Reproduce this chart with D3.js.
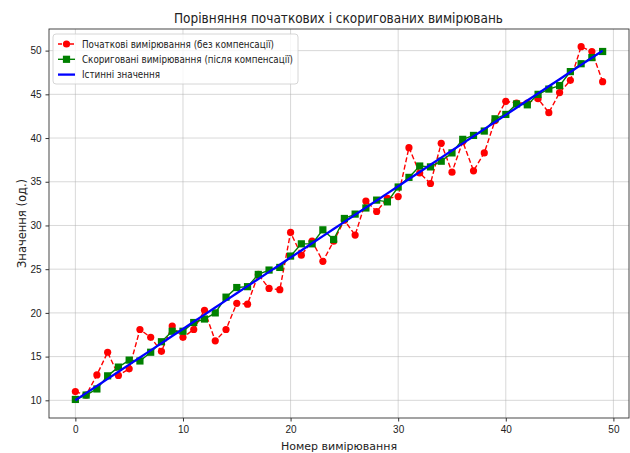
<!DOCTYPE html>
<meta charset="utf-8">
<style>
body { margin: 0; background: #fff; }
svg { font-family: "DejaVu Sans", sans-serif; }
.grid line { stroke: #b0b0b0; stroke-opacity: 0.55; stroke-width: 0.9; }
.axis text { font-size: 10px; fill: #222; }
.axis path, .axis line { stroke: #333; }
</style>
<svg width="630" height="453"></svg>
<script src="https://d3js.org/d3.v7.min.js"></script>
<script>

var index = d3.range(50);

var rawValues = [
  11.0, 10.6, 12.9, 15.5, 12.85, 13.6, 18.1, 17.2, 15.6, 18.5,
  17.2, 18.1, 20.3, 16.8, 18.1, 21.1, 21.0, 24.4, 22.8, 22.65,
  29.2, 26.6, 28.2, 25.9, 28.2, 30.6, 28.9, 32.8, 31.6, 33.1,
  33.3, 38.9, 36.0, 34.8, 39.4, 36.1, 39.6, 36.25, 38.3, 42.0,
  44.2, 44.0, 44.0, 44.5, 42.9, 45.2, 46.6, 50.45, 49.9, 46.45
];

var correctedValues = [
  10.1, 10.6, 11.3, 12.8, 13.8, 14.6, 14.5, 15.5, 16.7, 17.9,
  17.9, 18.9, 19.3, 20.0, 21.8, 22.9, 23.0, 24.4, 24.9, 25.2,
  26.5, 27.9, 27.9, 29.5, 28.4, 30.8, 31.3, 32.0, 32.9, 32.7,
  34.4, 35.5, 36.8, 36.7, 37.35, 38.3, 39.85, 40.3, 40.8, 42.2,
  42.7, 43.9, 43.8, 45.0, 45.6, 46.0, 47.6, 48.5, 49.2, 49.9
];

var trueValues = [
  10.0, 10.82, 11.63, 12.45, 13.27, 14.08, 14.9, 15.71, 16.53, 17.35,
  18.16, 18.98, 19.8, 20.61, 21.43, 22.24, 23.06, 23.88, 24.69, 25.51,
  26.33, 27.14, 27.96, 28.78, 29.59, 30.41, 31.22, 32.04, 32.86, 33.67,
  34.49, 35.31, 36.12, 36.94, 37.76, 38.57, 39.39, 40.2, 41.02, 41.84,
  42.65, 43.47, 44.29, 45.1, 45.92, 46.73, 47.55, 48.37, 49.18, 50.0
];

var xTicks = [0, 10, 20, 30, 40, 50];
var yTicks = [10, 15, 20, 25, 30, 35, 40, 45, 50];

var title = "Порівняння початкових і скоригованих вимірювань",
    xLabel = "Номер вимірювання",
    yLabel = "Значення (од.)";

var legendLabels = [
  "Початкові вимірювання (без компенсації)",
  "Скориговані вимірювання (після компенсації)",
  "Істинні значення"
];

var svg = d3.select("svg"),
    margin = {top: 29, right: 1, bottom: 35, left: 49},
    width = +svg.attr("width") - margin.left - margin.right,
    height = +svg.attr("height") - margin.top - margin.bottom;

// matplotlib-style 5% padding
function pad(ext) {
  var d = (ext[1] - ext[0]) * 0.05;
  return [ext[0] - d, ext[1] + d];
}

var x = d3.scaleLinear()
    .domain(pad(d3.extent(index)))
    .range([0, width]);

var y = d3.scaleLinear()
    .domain(pad(d3.extent(rawValues.concat(correctedValues, trueValues))))
    .range([height, 0]);

var g = svg.append("g")
    .attr("transform", "translate(" + margin.left + "," + margin.top + ")");

// grid
var grid = g.append("g").attr("class", "grid");

grid.selectAll("line.v")
  .data(xTicks)
  .enter().append("line")
    .attr("class", "v")
    .attr("x1", function(d) { return x(d); })
    .attr("x2", function(d) { return x(d); })
    .attr("y1", 0)
    .attr("y2", height);

grid.selectAll("line.h")
  .data(yTicks)
  .enter().append("line")
    .attr("class", "h")
    .attr("x1", 0)
    .attr("x2", width)
    .attr("y1", function(d) { return y(d); })
    .attr("y2", function(d) { return y(d); });

g.append("g")
    .attr("class", "axis")
    .attr("transform", "translate(0," + height + ")")
    .call(d3.axisBottom(x).tickValues(xTicks).tickSize(3.5).tickPadding(4))
    .call(function(s) { s.select(".domain").remove(); });

g.append("g")
    .attr("class", "axis")
    .call(d3.axisLeft(y).tickValues(yTicks).tickSize(3.5).tickPadding(4))
    .call(function(s) { s.select(".domain").remove(); });

var line = d3.line()
    .x(function(d, i) { return x(index[i]); })
    .y(function(d) { return y(d); });

// raw measurements
g.append("path")
    .datum(rawValues)
    .attr("fill", "none")
    .attr("stroke", "red")
    .attr("stroke-width", 1.4)
    .attr("stroke-dasharray", "5,2.5")
    .attr("d", line);

g.selectAll(".raw")
  .data(rawValues)
  .enter().append("circle")
    .attr("class", "raw")
    .attr("cx", function(d, i) { return x(index[i]); })
    .attr("cy", function(d) { return y(d); })
    .attr("r", 3.6)
    .attr("fill", "red");

// corrected measurements
g.append("path")
    .datum(correctedValues)
    .attr("fill", "none")
    .attr("stroke", "green")
    .attr("stroke-width", 1.4)
    .attr("d", line);

g.selectAll(".corr")
  .data(correctedValues)
  .enter().append("rect")
    .attr("class", "corr")
    .attr("x", function(d, i) { return x(index[i]) - 3.6; })
    .attr("y", function(d) { return y(d) - 3.6; })
    .attr("width", 7.2)
    .attr("height", 7.2)
    .attr("fill", "green");

// true values
g.append("path")
    .datum(trueValues)
    .attr("fill", "none")
    .attr("stroke", "blue")
    .attr("stroke-width", 2.3)
    .attr("d", line);

// frame
g.append("rect")
    .attr("width", width)
    .attr("height", height)
    .attr("fill", "none")
    .attr("stroke", "#333")
    .attr("stroke-width", 0.9);

// texts
svg.append("text")
    .attr("x", 174)
    .attr("y", 22.5)
    .attr("textLength", 329)
    .attr("lengthAdjust", "spacingAndGlyphs")
    .style("font-size", "14px")
    .style("fill", "#222")
    .text(title);

svg.append("text")
    .attr("x", margin.left + width / 2)
    .attr("y", 450)
    .attr("text-anchor", "middle")
    .style("font-size", "11px")
    .style("fill", "#222")
    .text(xLabel);

svg.append("text")
    .attr("transform", "translate(26," + (margin.top + height / 2) + ") rotate(-90)")
    .attr("text-anchor", "middle")
    .style("font-size", "11.5px")
    .style("fill", "#222")
    .text(yLabel);

// legend
var legend = g.append("g")
    .attr("transform", "translate(4,5)");

legend.append("rect")
    .attr("width", 245)
    .attr("height", 50)
    .attr("rx", 3)
    .attr("fill", "#fff")
    .attr("fill-opacity", 0.8)
    .attr("stroke", "#ccc")
    .attr("stroke-width", 0.8);

var legendWidths = [192, 211, 78];

var items = legend.selectAll(".item")
  .data(legendLabels)
  .enter().append("g")
    .attr("class", "item")
    .attr("transform", function(d, i) { return "translate(0," + (10 + i * 15.3) + ")"; });

items.append("line")
    .attr("x1", 5)
    .attr("x2", 22)
    .attr("stroke", function(d, i) { return ["red", "green", "blue"][i]; })
    .attr("stroke-width", function(d, i) { return i === 2 ? 2.3 : 1.4; })
    .attr("stroke-dasharray", function(d, i) { return i === 0 ? "4,2" : null; });

items.filter(function(d, i) { return i === 0; })
  .append("circle")
    .attr("cx", 13.5)
    .attr("r", 3.6)
    .attr("fill", "red");

items.filter(function(d, i) { return i === 1; })
  .append("rect")
    .attr("x", 9.9)
    .attr("y", -3.6)
    .attr("width", 7.2)
    .attr("height", 7.2)
    .attr("fill", "green");

items.append("text")
    .attr("x", 29)
    .attr("dy", "0.35em")
    .attr("textLength", function(d, i) { return legendWidths[i]; })
    .attr("lengthAdjust", "spacingAndGlyphs")
    .style("font-size", "10.5px")
    .style("fill", "#222")
    .text(function(d) { return d; });

</script>
